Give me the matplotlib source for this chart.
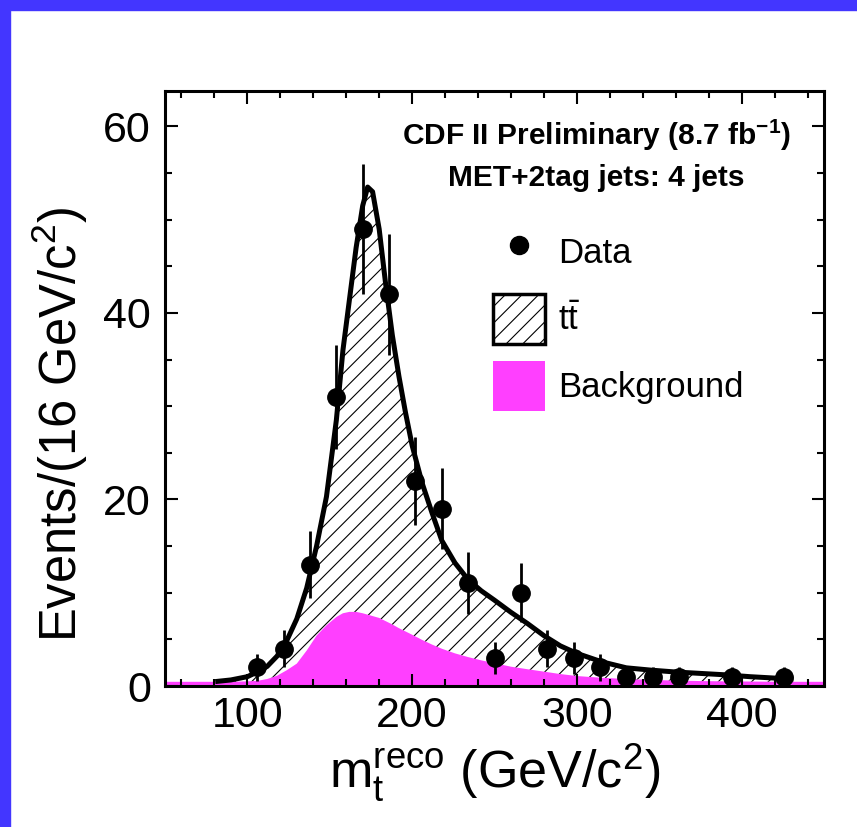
# CDF top mass template fit plot, MET+2tag 4 jets
import numpy as np
import matplotlib.pyplot as plt
from matplotlib.patches import Patch, Rectangle
from matplotlib.lines import Line2D

plt.rcParams['font.family'] = ['Liberation Sans', 'DejaVu Sans']
plt.rcParams['mathtext.fontset'] = 'custom'
plt.rcParams['mathtext.rm'] = 'Liberation Sans'
plt.rcParams['mathtext.it'] = 'Liberation Sans'
plt.rcParams['mathtext.bf'] = 'Liberation Sans:bold'
plt.rcParams['hatch.linewidth'] = 0.8

# data points (bin centres, 16 GeV bins)
data_x = [106, 122, 138, 154, 170, 186, 202, 218, 234, 250, 266, 282, 298, 314, 330, 346, 362, 394, 426]
data_y = [2, 4, 13, 31, 49, 42, 22, 19, 11, 3, 10, 4, 3, 2, 1, 1, 1, 1, 1]

# fitted curves
curve_x = [50, 70, 82, 90, 100, 106, 112, 118, 124, 130, 136, 142, 148, 154, 158,
           162, 166, 170, 173, 176, 180, 184, 188, 192, 196, 200, 206, 212, 218,
           226, 234, 242, 250, 260, 270, 280, 290, 300, 315, 330, 345, 360, 375,
           390, 405, 420, 430, 440, 450]
bkg = [0.45, 0.45, 0.45, 0.45, 0.5, 0.55, 0.75, 1.1, 1.7, 2.4, 3.8, 5.4, 6.5, 7.4, 7.8,
       7.95, 7.95, 7.8, 7.65, 7.5, 7.3, 6.95, 6.6, 6.2, 5.85, 5.5, 4.95, 4.45, 4.0,
       3.5, 3.1, 2.75, 2.45, 2.07, 1.8, 1.54, 1.28, 1.07, 0.88, 0.75, 0.65, 0.58, 0.53,
       0.5, 0.48, 0.46, 0.45, 0.45, 0.45]
total = [0.45, 0.45, 0.5, 0.65, 1.0, 1.5, 2.1, 3.2, 4.9, 7.2, 10.5, 15.0, 20.3, 28.5, 36.0,
         41.5, 47.0, 51.5, 53.5, 53.0, 49.0, 43.0, 37.6, 33.2, 29.3, 25.8, 21.8, 18.6, 15.6,
         13.2, 11.4, 10.2, 9.2, 7.9, 6.7, 5.4, 4.3, 3.5, 2.6, 1.95, 1.7, 1.5, 1.35,
         1.2, 1.0, 0.85, 0.75, 0.7, 0.65]

MAGENTA = '#FF3FFF'

fig = plt.figure(figsize=(8.57, 8.27), dpi=100)
ax = fig.add_axes([165 / 857, 1 - 686 / 827, 659 / 857, 595 / 827])

cx = np.array(curve_x)
bk = np.array(bkg)
tt = np.array(total)
sig = (cx >= 82) & (cx <= 430)

ax.fill_between(cx, 0, bk, facecolor=MAGENTA, edgecolor='none', zorder=1)
ax.fill_between(cx[sig], bk[sig], tt[sig], facecolor='none', edgecolor='black',
                hatch='//', linewidth=0, zorder=2)
ax.plot(cx[sig], tt[sig], color='black', lw=3.6, zorder=3)

dy = np.sqrt(data_y)
ax.errorbar(data_x, data_y, yerr=dy, fmt='o', color='black', ms=12.5,
            elinewidth=2, capsize=0, zorder=4)

ax.set_xlim(50, 450)
ax.set_ylim(0, 63.8)
ax.set_xticks([100, 200, 300, 400])
ax.set_xticks(np.arange(60, 451, 20), minor=True)
ax.set_yticks([0, 20, 40, 60])
ax.set_yticks(np.arange(0, 64, 5), minor=True)
ax.tick_params(which='both', direction='in', top=True, right=True, width=1.5)
ax.tick_params(which='major', length=9, labelsize=31)
ax.tick_params(which='minor', length=5)
ax.tick_params(axis='x', pad=7)
ax.tick_params(axis='y', pad=10)
for s in ax.spines.values():
    s.set_linewidth(2.2)

ax.set_ylabel(r'Events/(16 GeV/c$^{2}$)', fontsize=36.5)
ax.set_xlabel(r'm$_{\mathregular{t}}^{\mathregular{reco}}$ (GeV/c$^{2}$)', fontsize=37.5)
ax.yaxis.set_label_coords(-0.114, 0.44)
ax.xaxis.set_label_coords(0.5, -0.093)

ax.text(0.655, 0.926, r'CDF II Preliminary (8.7 fb$^{\mathbf{-1}}$)', transform=ax.transAxes,
        ha='center', va='center', fontsize=21.5, fontweight='bold')
ax.text(0.655, 0.854, 'MET+2tag jets: 4 jets', transform=ax.transAxes,
        ha='center', va='center', fontsize=21.5, fontweight='bold')

handles = [Line2D([], [], marker='o', color='black', ls='none', ms=13),
           Patch(facecolor='white', edgecolor='black', hatch='//', linewidth=2.5),
           Patch(facecolor=MAGENTA, edgecolor='none')]
labels = ['Data', r'$\mathregular{t\bar{t}}$', 'Background']
ax.legend(handles, labels, loc='upper left', bbox_to_anchor=(0.498, 0.771),
          frameon=False, fontsize=25, borderpad=0, borderaxespad=0,
          handlelength=1.5, handleheight=1.82, handletextpad=0.37, labelspacing=0.5)

# blue frame on left and top
fig.patches.append(Rectangle((0, 0), 10 / 857, 1, transform=fig.transFigure,
                             color='#4336FF', zorder=10))
fig.patches.append(Rectangle((0, 1 - 10 / 827), 1, 10 / 827, transform=fig.transFigure,
                             color='#4336FF', zorder=10))

fig.savefig('out.png', dpi=100)
